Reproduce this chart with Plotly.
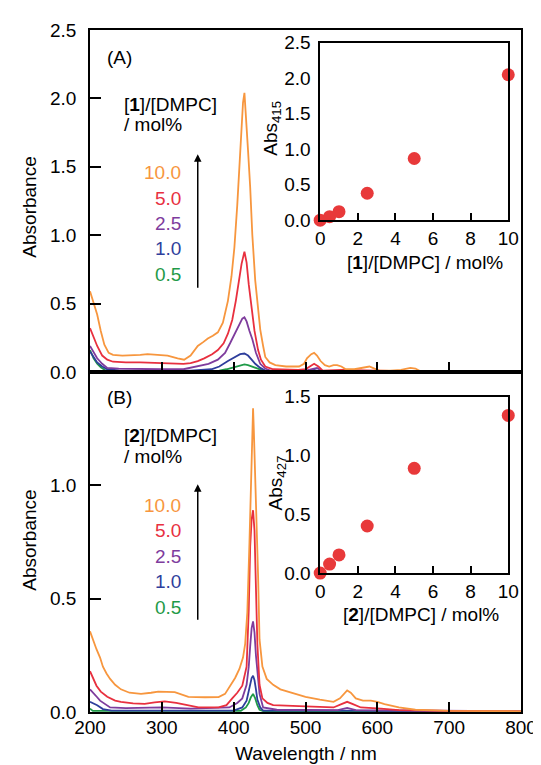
import plotly.graph_objects as go

# ---------------- data ----------------
# Panel A spectra ([1]/[DMPC])
wlA_10 = [200,205,210,215,220,226,232,245,260,270,280,293,308,322,331,340,350,358,364,371,378,385,392,397,401,405,408,411,413,415,417,420,423,426,430,434,437,441,444,450,458,473,491,498,502,508,512,516,521,527,533,539,544,550,556,568,578,589,596,603,618,633,646,653,660,700,730,800]
absA_10 = [0.59,0.50,0.42,0.30,0.20,0.14,0.125,0.12,0.12,0.125,0.13,0.125,0.12,0.10,0.09,0.12,0.19,0.22,0.245,0.265,0.29,0.36,0.52,0.70,0.91,1.22,1.51,1.80,1.97,2.04,1.90,1.62,1.35,1.00,0.67,0.45,0.31,0.19,0.11,0.07,0.05,0.04,0.04,0.06,0.10,0.13,0.14,0.12,0.08,0.05,0.04,0.05,0.05,0.04,0.02,0.02,0.03,0.04,0.025,0.01,0.01,0.015,0.03,0.025,0.005,0.005,0.003,0.0]
wlA_5 = [200,205,210,217,224,232,250,270,290,310,330,340,350,359,370,378,386,392,398,403,407,411,415,418,421,425,429,434,438,444,455,490,500,506,512,518,524,550,590,650,800]
absA_5 = [0.32,0.26,0.19,0.12,0.09,0.075,0.07,0.07,0.065,0.065,0.06,0.065,0.08,0.10,0.13,0.16,0.21,0.28,0.38,0.52,0.65,0.79,0.88,0.80,0.64,0.47,0.30,0.16,0.09,0.04,0.02,0.015,0.02,0.04,0.06,0.04,0.01,0.015,0.01,0.005,0.0]
wlA_25 = [200,205,210,217,224,240,270,300,330,350,365,378,388,395,402,408,412,415,418,422,426,431,437,444,451,500,510,516,522,560,800]
absA_25 = [0.19,0.14,0.10,0.06,0.03,0.025,0.02,0.02,0.02,0.04,0.06,0.09,0.14,0.21,0.28,0.35,0.39,0.40,0.37,0.30,0.24,0.14,0.06,0.025,0.01,0.01,0.025,0.03,0.01,0.005,0.0]
wlA_1 = [200,205,210,217,224,240,300,340,369,380,392,402,409,415,420,425,430,437,444,500,512,520,800]
absA_1 = [0.15,0.11,0.07,0.04,0.02,0.012,0.01,0.01,0.02,0.04,0.08,0.11,0.13,0.135,0.12,0.09,0.06,0.03,0.01,0.005,0.015,0.005,0.0]
wlA_05 = [200,205,210,215,222,260,350,380,390,400,410,415,420,428,434,444,800]
absA_05 = [0.16,0.10,0.06,0.035,0.01,0.005,0.005,0.01,0.02,0.035,0.05,0.055,0.05,0.035,0.02,0.005,0.0]

# Panel B spectra ([2]/[DMPC])
wlB_10 = [200,205,209,214,218,223,228,235,243,255,271,285,295,318,330,337,360,379,388,395,402,408,413,416,419,422,424,426,427,428,430,432,434,436,440,446,455,465,480,500,520,539,548,553,558,563,570,580,591,600,610,630,653,700,800]
absB_10 = [0.356,0.31,0.277,0.24,0.20,0.17,0.146,0.12,0.10,0.085,0.08,0.085,0.09,0.088,0.075,0.067,0.065,0.066,0.08,0.116,0.15,0.19,0.24,0.30,0.44,0.75,1.02,1.25,1.34,1.25,1.05,0.90,0.60,0.32,0.20,0.146,0.12,0.10,0.085,0.067,0.055,0.045,0.06,0.08,0.095,0.085,0.06,0.05,0.05,0.045,0.035,0.02,0.01,0.005,0.003]
wlB_5 = [200,205,209,215,224,235,243,260,276,290,304,320,340,351,379,390,398,405,412,418,421,423,425,427,429,431,433,436,440,447,455,500,539,550,558,566,577,605,630,700,800]
absB_5 = [0.18,0.145,0.116,0.09,0.067,0.05,0.045,0.038,0.036,0.042,0.047,0.04,0.028,0.02,0.02,0.03,0.06,0.085,0.116,0.20,0.45,0.73,0.85,0.89,0.80,0.55,0.30,0.12,0.06,0.04,0.03,0.025,0.02,0.035,0.045,0.035,0.02,0.015,0.008,0.005,0.003]
wlB_25 = [200,205,210,214,221,228,250,300,340,394,405,412,418,421,423,425,427,429,431,433,436,441,460,545,558,570,800]
absB_25 = [0.10,0.08,0.065,0.05,0.035,0.02,0.017,0.02,0.015,0.02,0.04,0.06,0.12,0.20,0.29,0.37,0.40,0.35,0.25,0.17,0.08,0.02,0.01,0.008,0.018,0.008,0.003]
wlB_1 = [200,210,218,230,400,412,418,421,423,425,427,429,431,433,437,441,558,800]
absB_1 = [0.045,0.03,0.013,0.006,0.006,0.02,0.05,0.09,0.11,0.15,0.16,0.14,0.10,0.055,0.02,0.006,0.006,0.002]
wlB_05 = [200,204,410,417,421,424,427,430,433,436,442,800]
absB_05 = [0.015,0.005,0.005,0.02,0.04,0.065,0.08,0.06,0.03,0.01,0.003,0.001]

# Insets
ratio = [0, 0.5, 1.0, 2.5, 5.0, 10.0]
abs415 = [0.0, 0.05, 0.12, 0.38, 0.87, 2.05]
abs427 = [0.0, 0.076, 0.154, 0.40, 0.89, 1.34]

series_labels = ["10.0", "5.0", "2.5", "1.0", "0.5"]
series_colors = ["#F7963E", "#E8303F", "#7E3C9D", "#2E3E9C", "#1F9A48"]

main_xticks = [200, 300, 400, 500, 600, 700, 800]
yA_ticks = [0, 0.5, 1.0, 1.5, 2.0, 2.5]
yB_ticks = [0, 0.5, 1.0]
inset_xticks = [0, 2, 4, 6, 8, 10]
insetA_yticks = [0, 0.5, 1.0, 1.5, 2.0, 2.5]
insetB_yticks = [0, 0.5, 1.0, 1.5]

# ---------------- figure ----------------
W, H = 541, 765
L, R, T, B = 82, 19, 12, 61
PW, PH = W - L - R, H - T - B

def X(px):
    return (px - L) / PW

def Y(py):
    return (T + PH - py) / PH

FONT = "Liberation Sans, Arial, sans-serif"
fs = 19

fig = go.Figure()

specA = [(wlA_10, absA_10), (wlA_5, absA_5), (wlA_25, absA_25), (wlA_1, absA_1), (wlA_05, absA_05)]
specB = [(wlB_10, absB_10), (wlB_5, absB_5), (wlB_25, absB_25), (wlB_1, absB_1), (wlB_05, absB_05)]

for (wl, a), c in zip(specA[::-1], series_colors[::-1]):
    fig.add_trace(go.Scatter(x=wl, y=a, mode="lines", line=dict(color=c, width=1.8),
                             xaxis="x", yaxis="y", showlegend=False))
for (wl, a), c in zip(specB[::-1], series_colors[::-1]):
    fig.add_trace(go.Scatter(x=wl, y=a, mode="lines", line=dict(color=c, width=1.8),
                             xaxis="x2", yaxis="y2", showlegend=False))

mk = dict(color="#E8393A", size=13)
fig.add_trace(go.Scatter(x=ratio, y=abs415, mode="markers", marker=mk, cliponaxis=False,
                         xaxis="x3", yaxis="y3", showlegend=False))
fig.add_trace(go.Scatter(x=ratio, y=abs427, mode="markers", marker=mk, cliponaxis=False,
                         xaxis="x4", yaxis="y4", showlegend=False))

base = dict(showline=True, linecolor="black", linewidth=1.5, mirror=True, showgrid=False,
            zeroline=False, ticks="inside", tickcolor="black", tickwidth=1.5,
            tickfont=dict(family=FONT, size=fs, color="black"))

ysplit = Y(359)

fig.update_layout(
    width=W, height=H,
    margin=dict(l=L, r=R, t=T, b=B),
    paper_bgcolor="white", plot_bgcolor="white",
    font=dict(family=FONT, size=fs, color="black"),
    xaxis=dict(base, domain=[0, 1], anchor="y", range=[200, 800],
               tickvals=main_xticks[1:-1], showticklabels=False, ticklen=10),
    yaxis=dict(base, domain=[ysplit, 1], anchor="x", range=[0, 2.5],
               tickvals=yA_ticks, ticktext=[f"{v:.1f}" for v in yA_ticks],
               ticklen=11, ticklabelstandoff=8),
    xaxis2=dict(base, domain=[0, 1], anchor="y2", range=[200, 800],
                tickvals=main_xticks, ticktext=[str(v) for v in main_xticks],
                ticklen=10, ticklabelstandoff=-3),
    yaxis2=dict(base, domain=[0, ysplit], anchor="x2", range=[0, 1.5],
                tickvals=yB_ticks, ticktext=[f"{v:.1f}" for v in yB_ticks],
                ticklen=11, ticklabelstandoff=8),
    xaxis3=dict(base, domain=[X(317), X(509)], anchor="y3", range=[0, 10],
                tickvals=inset_xticks, ticktext=[str(v) for v in inset_xticks],
                ticklen=7, ticklabelstandoff=0),
    yaxis3=dict(base, domain=[Y(205), Y(25)], anchor="x3", range=[0, 2.5],
                tickvals=insetA_yticks, ticktext=[f"{v:.1f}" for v in insetA_yticks],
                ticks="", ticklabelstandoff=4),
    xaxis4=dict(base, domain=[X(317), X(509)], anchor="y4", range=[0, 10],
                tickvals=inset_xticks, ticktext=[str(v) for v in inset_xticks],
                ticklen=7, ticklabelstandoff=0),
    yaxis4=dict(base, domain=[Y(563), Y(384)], anchor="x4", range=[0, 1.5],
                tickvals=insetB_yticks, ticktext=[f"{v:.1f}" for v in insetB_yticks],
                ticks="", ticklabelstandoff=4),
)

ann = []

def txt(text, px, py, xanchor="left", color="black", angle=0, size=fs):
    ann.append(dict(text=text, x=X(px), y=Y(py), xref="paper", yref="paper",
                    xanchor=xanchor, yanchor="middle", showarrow=False,
                    textangle=angle, font=dict(family=FONT, size=size, color=color)))

txt("(A)", 97, 40)
txt("(B)", 97, 385)
txt("[<b>1</b>]/[DMPC]", 115, 88)
txt("/ mol%", 115, 108)
txt("[<b>2</b>]/[DMPC]", 115, 423)
txt("/ mol%", 115, 445)
for lab, c, py in zip(series_labels, series_colors, [157, 183, 208, 234, 260]):
    txt(lab, 177, py, xanchor="right", color=c)
for lab, c, py in zip(series_labels, series_colors, [494, 520, 546, 572, 598]):
    txt(lab, 177, py, xanchor="right", color=c)
txt("Absorbance", 20, 192, xanchor="center", angle=-90)
txt("Absorbance", 20, 530, xanchor="center", angle=-90)
txt("Wavelength / nm", 302, 746, xanchor="center")
txt("Abs<sub>415</sub>", 267, 112, xanchor="center", angle=-90)
txt("Abs<sub>427</sub>", 273, 472, xanchor="center", angle=-90)
txt("[<b>1</b>]/[DMPC] / mol%", 424, 248, xanchor="center")
txt("[<b>2</b>]/[DMPC] / mol%", 420, 605, xanchor="center")

for head, tail in [(138, 273), (473, 610)]:
    ann.append(dict(text="", x=X(192), y=Y(head), xref="paper", yref="paper",
                    ax=0, ay=tail - head, axref="pixel", ayref="pixel",
                    showarrow=True, arrowhead=2, arrowsize=1, arrowwidth=1.5,
                    arrowcolor="black"))

fig.update_layout(annotations=ann)

fig.write_html("out.html")
